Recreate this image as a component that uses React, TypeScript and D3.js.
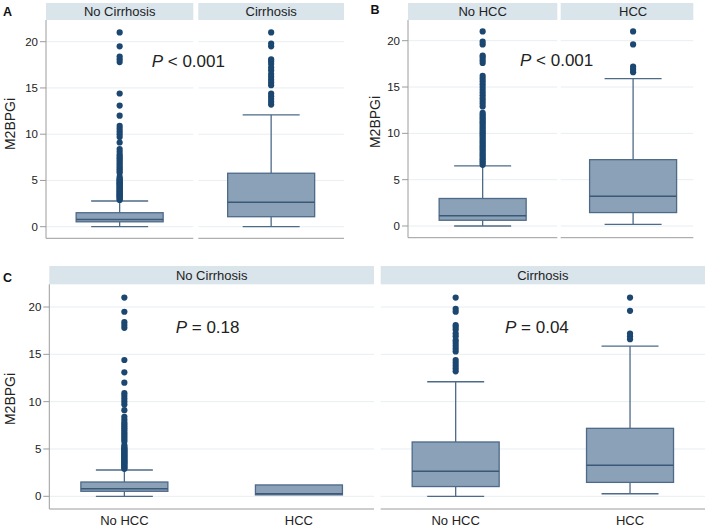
import React from "react";
import * as d3 from "d3";

// ---- data: box stats [min, q1, median, q3, max] ----
const statsNoCirrhosis = [0, 0.53, 0.78, 1.51, 2.78];
const statsCirrhosis = [0, 1.08, 2.65, 5.78, 12.1];
const statsNoHCC = [0, 0.62, 1.1, 2.97, 6.5];
const statsHCC = [0.18, 1.45, 3.22, 7.16, 15.9];
const statsNoCirrNoHCC = [0, 0.53, 0.8, 1.51, 2.78];
const statsNoCirrHCC = [0.15, 0.15, 0.26, 1.2, 1.2];
const statsCirrNoHCC = [0, 1.03, 2.64, 5.74, 12.1];
const statsCirrHCC = [0.27, 1.47, 3.27, 7.18, 15.87];

// ---- outliers ----
const outNoCirrhosis = [2.9, 3.0, 3.1, 3.2, 3.3, 3.4, 3.5, 3.6, 3.7, 3.8, 3.9, 4.0, 4.1, 4.2, 4.3, 4.4, 4.5, 4.6, 4.7, 4.8, 4.9, 5.0, 5.1, 5.2, 5.4, 5.8, 6.0, 6.2, 6.4, 6.6, 6.8, 7.0, 7.2, 7.4, 7.6, 7.8, 8.1, 8.4, 9.1, 9.7, 10.0, 10.3, 10.6, 10.9, 12.0, 13.1, 14.4, 17.8, 18.1, 18.4, 19.5, 21.0];
const outCirrhosis = [13.2, 13.5, 13.8, 14.1, 14.4, 15.3, 15.6, 15.9, 16.2, 16.5, 16.9, 17.2, 17.6, 17.9, 18.1, 19.5, 19.8, 21.0];
const outNoHCC = [6.6, 6.8, 7.0, 7.2, 7.4, 7.6, 7.8, 8.0, 8.2, 8.4, 8.6, 8.8, 9.0, 9.2, 9.4, 9.6, 9.8, 10.0, 10.2, 10.4, 10.6, 10.8, 11.0, 11.2, 11.4, 11.6, 11.8, 12.0, 12.2, 12.9, 13.2, 13.5, 13.8, 14.1, 14.4, 14.7, 15.0, 15.3, 15.6, 15.9, 16.2, 17.6, 17.9, 18.2, 18.4, 19.6, 19.9, 21.0];
const outHCC = [16.6, 16.9, 17.2, 19.6, 21.0];

const yTicks = [0, 5, 10, 15, 20];
const yTitle = "M2BPGi";
const pTexts = ["< 0.001", "< 0.001", "= 0.18", "= 0.04"];
const pY = 17.3;

const FONT = "'Liberation Sans', Arial, Helvetica, sans-serif";
const C = {
  strip: "#d9e4eb",
  grid: "#e8eef2",
  axis: "#9c9c9c",
  boxFill: "#8ba1b7",
  boxStroke: "#4d6a88",
  median: "#3b5877",
  point: "#1b4771",
  text: "#222",
};

type Box = { cat: string; stats: number[]; out: number[] };
type Facet = {
  x0: number; x1: number; sx1?: number; stripTop: number; stripBot: number; bottom: number;
  y0: number; y20: number; label: string; yAxis: boolean; boxes: Box[];
  pad: number; showX: boolean; pX?: number; pIdx?: number;
};

const facets: Facet[] = [
  { x0: 46, x1: 193.3, stripTop: 3, stripBot: 20, bottom: 238.3, y0: 226.7, y20: 41.7, label: "No Cirrhosis", yAxis: true, pad: 0.5, showX: false,
    boxes: [{ cat: "No Cirrhosis", stats: statsNoCirrhosis, out: outNoCirrhosis }], pX: 151.7, pIdx: 0 },
  { x0: 198.3, x1: 344, stripTop: 3, stripBot: 20, bottom: 238.3, y0: 226.7, y20: 41.7, label: "Cirrhosis", yAxis: false, pad: 0.5, showX: false,
    boxes: [{ cat: "Cirrhosis", stats: statsCirrhosis, out: outCirrhosis }] },
  { x0: 408, x1: 557.3, stripTop: 3, stripBot: 20, bottom: 237.7, y0: 226, y20: 40.7, label: "No HCC", yAxis: true, pad: 0.5, showX: false,
    boxes: [{ cat: "No HCC", stats: statsNoHCC, out: outNoHCC }], pX: 520, pIdx: 1 },
  { x0: 560.7, x1: 693.3, sx1: 705.5, stripTop: 3, stripBot: 20, bottom: 237.7, y0: 226, y20: 40.7, label: "HCC", yAxis: false, pad: 0.5, showX: false,
    boxes: [{ cat: "HCC", stats: statsHCC, out: outHCC }] },
  { x0: 49.3, x1: 374, stripTop: 266, stripBot: 284.3, bottom: 509, y0: 496.3, y20: 307, label: "No Cirrhosis", yAxis: true, pad: 0.43, showX: true,
    boxes: [
      { cat: "No HCC", stats: statsNoCirrNoHCC, out: outNoCirrhosis },
      { cat: "HCC", stats: statsNoCirrHCC, out: [] },
    ], pX: 175.7, pIdx: 2 },
  { x0: 380.7, x1: 705, stripTop: 266, stripBot: 284.3, bottom: 509, y0: 496.3, y20: 307, label: "Cirrhosis", yAxis: false, pad: 0.43, showX: true,
    boxes: [
      { cat: "No HCC", stats: statsCirrNoHCC, out: outCirrhosis },
      { cat: "HCC", stats: statsCirrHCC, out: outHCC },
    ], pX: 505, pIdx: 3 },
];

const panelLetters = [
  { t: "A", x: 3, y: 16 },
  { t: "B", x: 370.5, y: 14 },
  { t: "C", x: 3, y: 281.5 },
];
const yTitles = [
  { x: 15, y: 124 },
  { x: 380, y: 122 },
  { x: 15, y: 399 },
];

function FacetView({ f }: { f: Facet }) {
  const y = d3.scaleLinear().domain([0, 20]).range([f.y0, f.y20]);
  const sx1 = f.sx1 ?? f.x1;
  const x = d3.scalePoint<string>().domain(f.boxes.map((b) => b.cat)).range([f.x0, sx1]).padding(f.pad);
  const bw = 43.5;
  const cw = 28.5;
  return (
    <g>
      <rect x={f.x0} y={f.stripTop} width={f.x1 - f.x0} height={f.stripBot - f.stripTop} fill={C.strip} />
      <text x={(f.x0 + sx1) / 2} y={f.stripBot - 4} textAnchor="middle" fontSize={13} fill={C.text} fontFamily={FONT}>{f.label}</text>
      {yTicks.map((t) => (
        <line key={t} x1={f.x0} x2={f.x1} y1={y(t)} y2={y(t)} stroke={C.grid} strokeWidth={1} />
      ))}
      {f.yAxis && (
        <g>
          <line x1={f.x0} x2={f.x0} y1={f.stripBot} y2={f.bottom} stroke={C.axis} strokeWidth={1} />
          {yTicks.map((t) => (
            <g key={t}>
              <line x1={f.x0 - 6} x2={f.x0} y1={y(t)} y2={y(t)} stroke={C.axis} strokeWidth={1} />
              <text x={f.x0 - 8} y={y(t) + 4} textAnchor="end" fontSize={11.5} fill={C.text} fontFamily={FONT}>{t}</text>
            </g>
          ))}
        </g>
      )}
      <line x1={f.x0} x2={f.x1} y1={f.bottom} y2={f.bottom} stroke={C.axis} strokeWidth={1} />
      {f.boxes.map((b) => {
        const cx = x(b.cat) as number;
        const [mn, q1, md, q3, mx] = b.stats;
        return (
          <g key={b.cat}>
            <line x1={cx} x2={cx} y1={y(q3)} y2={y(mx)} stroke={C.boxStroke} strokeWidth={1.3} />
            <line x1={cx} x2={cx} y1={y(q1)} y2={y(mn)} stroke={C.boxStroke} strokeWidth={1.3} />
            {mx > q3 && <line x1={cx - cw} x2={cx + cw} y1={y(mx)} y2={y(mx)} stroke={C.boxStroke} strokeWidth={1.3} />}
            {mn < q1 && <line x1={cx - cw} x2={cx + cw} y1={y(mn)} y2={y(mn)} stroke={C.boxStroke} strokeWidth={1.3} />}
            <rect x={cx - bw} y={y(q3)} width={bw * 2} height={y(q1) - y(q3)} fill={C.boxFill} stroke={C.boxStroke} strokeWidth={1.3} />
            <line x1={cx - bw} x2={cx + bw} y1={y(md)} y2={y(md)} stroke={C.median} strokeWidth={1.5} />
            {b.out.map((v, i) => (
              <circle key={i} cx={cx} cy={y(v)} r={3.1} fill={C.point} />
            ))}
            {f.showX && (
              <text x={cx} y={525} textAnchor="middle" fontSize={13} fill={C.text} fontFamily={FONT}>{b.cat}</text>
            )}
          </g>
        );
      })}
      {f.pIdx !== undefined && (
        <text x={f.pX} y={y(pY)} fontSize={17} fill={C.text} fontFamily={FONT}>
          <tspan fontStyle="italic">P</tspan>
          <tspan> {pTexts[f.pIdx]}</tspan>
        </text>
      )}
    </g>
  );
}

export default function App() {
  return (
    <svg width={709} height={529} style={{ position: "absolute", left: 0, top: 0, background: "#fff" }}>
      <rect width={709} height={529} fill="#fff" />
      {facets.map((f, i) => (
        <FacetView key={i} f={f} />
      ))}
      {panelLetters.map((p) => (
        <text key={p.t} x={p.x} y={p.y} fontSize={12.5} fontWeight="bold" fill="#111" fontFamily={FONT}>{p.t}</text>
      ))}
      {yTitles.map((p, i) => (
        <text key={i} transform={`translate(${p.x},${p.y}) rotate(-90)`} textAnchor="middle" fontSize={14} fill={C.text} fontFamily={FONT}>{yTitle}</text>
      ))}
    </svg>
  );
}
